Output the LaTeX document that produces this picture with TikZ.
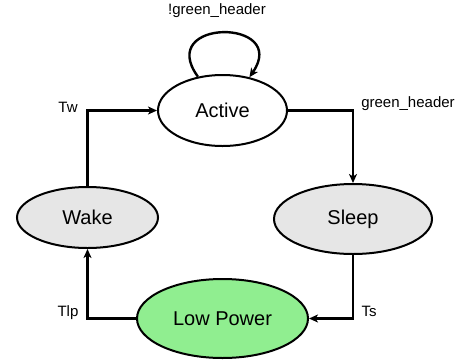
\documentclass[tikz,border=0pt]{standalone}
\usepackage{fontspec}
\setmainfont{Liberation Sans}
\usetikzlibrary{arrows.meta, positioning, shapes.geometric}

\definecolor{stategray}{HTML}{E6E6E6}
\definecolor{stategreen}{HTML}{90EE90}

\begin{document}
\begin{tikzpicture}[
            x=1pt, y=-1pt,
            state/.style={ellipse, draw, line width=2pt, inner sep=0pt, font=\fontsize{20}{24}\selectfont},
            lbl/.style={inner sep=0pt, font=\fontsize{15}{18}\selectfont},
            arrow/.style={-{Stealth[length=9pt, width=8pt, inset=2.5pt]}, line width=2.4pt}
        ]
        \useasboundingbox (0,0) rectangle (459,360);

        % States
        \node[state, minimum width=129pt, minimum height=71pt] (active) at (222.5,110.5) {Active};
        \node[state, fill=stategray, minimum width=158pt, minimum height=70pt] (sleep) at (353,219) {Sleep};
        \node[state, fill=stategray, minimum width=141pt, minimum height=61pt] (wake) at (87.5,217.5) {Wake};
        \node[state, fill=stategreen, minimum width=171pt, minimum height=79pt] (lowpower) at (222.5,318.5) {Low Power};

        % Transitions
        \draw[arrow] (active.126) .. controls (155,18) and (290,18) .. (active.51);
        \draw[arrow] (active.east) -| (sleep.north);
        \draw[arrow] (sleep.south) |- (lowpower.east);
        \draw[arrow] (lowpower.west) -| (wake.south);
        \draw[arrow] (wake.north) |- (active.west);

        % Labels
        \node[lbl] (lblstay) at (217,11) {!green\_header};
        \node[lbl] (lblgreen) at (408,104) {green\_header};
        \node[lbl] (lblts) at (369,311) {Ts};
        \node[lbl] (lbltlp) at (68,313) {Tlp};
        \node[lbl] (lbltw) at (68,107) {Tw};

    \end{tikzpicture}
\end{document}
